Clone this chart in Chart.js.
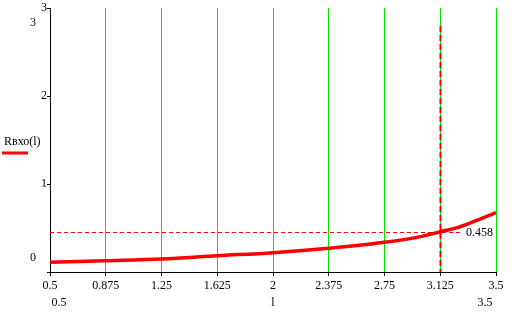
<!DOCTYPE html>
<html><head><meta charset="utf-8">
<script src="https://cdn.jsdelivr.net/npm/chart.js@4/dist/chart.umd.min.js"></script>
<style>html,body{margin:0;padding:0;background:#fff}#wrap{width:517px;height:317px;position:relative}</style>
</head><body><div id="wrap"><canvas id="c" width="517" height="317"></canvas></div>
<script>
// Data
const lValues = [0.5, 0.875, 1.25, 1.625, 2, 2.375, 2.75, 3.0, 3.125, 3.25, 3.375, 3.5];
const rValues = [0.11, 0.128, 0.148, 0.185, 0.22, 0.27, 0.337, 0.405, 0.458, 0.51, 0.59, 0.674];
const xTickStep = 0.375;
const xRange = [0.5, 3.5];
const yRange = [0, 3];
const markerL = 3.125;
const markerR = 0.458;
const markerLabel = '0.458';
const xLimitLabels = ['0.5', '3.5'];
const yLimitLabels = ['0', '3'];
const xAxisName = 'l';
const seriesName = 'Rвхо(l)';

const FONT = '"Liberation Serif", "Times New Roman", serif';

const overlay = {
  id: 'overlay',
  afterDraw(chart) {
    const ctx = chart.ctx, xs = chart.scales.x, ys = chart.scales.y;
    const ca = chart.chartArea;
    ctx.save();
    // horizontal dashed marker
    const yy = Math.round(ys.getPixelForValue(markerR)) + 0.5;
    ctx.strokeStyle = '#ff0000';
    ctx.lineWidth = 1;
    ctx.setLineDash([4, 3]);
    ctx.beginPath(); ctx.moveTo(ca.left, yy); ctx.lineTo(ca.right - 33, yy); ctx.stroke();
    // vertical dashed marker
    const xx = Math.round(xs.getPixelForValue(markerL)) + 0.5;
    ctx.lineWidth = 2;
    ctx.setLineDash([6, 3]);
    ctx.beginPath(); ctx.moveTo(xx, ca.top + 18); ctx.lineTo(xx, ca.bottom); ctx.stroke();
    ctx.setLineDash([]);
    // texts
    ctx.fillStyle = '#000';
    ctx.font = '12px ' + FONT;
    ctx.textBaseline = 'middle';
    ctx.textAlign = 'left';
    ctx.fillText(markerLabel, ca.right - 30, yy);
    // axis limit labels
    ctx.textAlign = 'center';
    ctx.fillText(xLimitLabels[0], xs.getPixelForValue(xRange[0]) + 9, ca.bottom + 31);
    ctx.fillText(xLimitLabels[1], xs.getPixelForValue(xRange[1]) - 11, ca.bottom + 31);
    ctx.fillText(xAxisName, (ca.left + ca.right) / 2, ca.bottom + 31);
    ctx.fillText(yLimitLabels[0], ca.left - 17, ys.getPixelForValue(yRange[0]) - 14);
    ctx.fillText(yLimitLabels[1], ca.left - 17, ys.getPixelForValue(yRange[1]) + 15);
    // series name legend
    ctx.textAlign = 'left';
    ctx.fillText(seriesName, 4, 142);
    ctx.strokeStyle = '#ff0000';
    ctx.lineWidth = 3;
    ctx.beginPath(); ctx.moveTo(2, 153); ctx.lineTo(28, 153); ctx.stroke();
    ctx.restore();
  }
};

new Chart(document.getElementById('c'), {
  type: 'line',
  data: {
    datasets: [{
      label: seriesName,
      data: lValues.map((l, i) => ({ x: l, y: rValues[i] })),
      borderColor: '#ff0000',
      borderWidth: 3.5,
      pointRadius: 0,
      cubicInterpolationMode: 'monotone',
      fill: false
    }]
  },
  options: {
    responsive: false,
    animation: false,
    devicePixelRatio: 1,
    layout: { padding: { top: 8, right: 21, left: 0, bottom: 0 } },
    plugins: { legend: { display: false }, tooltip: { enabled: false }, title: { display: false } },
    scales: {
      x: {
        type: 'linear', min: xRange[0], max: xRange[1],
        afterFit(s) { s.height = 45; },
        ticks: {
          stepSize: xTickStep, autoSkip: false, maxRotation: 0, color: '#000',
          font: { family: FONT, size: 12 }, padding: 3,
          callback: v => String(v)
        },
        grid: {
          color: c => (c.tick && c.tick.value === xRange[0]) ? 'rgba(0,0,0,0)' : '#00e600',
          tickColor: '#000', tickLength: 4, lineWidth: 1
        },
        border: { color: '#000', width: 1 }
      },
      y: {
        type: 'linear', min: yRange[0], max: yRange[1],
        afterFit(s) { s.width = 50; },
        ticks: {
          stepSize: 1, color: '#000', font: { family: FONT, size: 12 }, padding: 0,
          callback: v => v === 0 ? '' : String(v)
        },
        grid: { drawOnChartArea: false, tickColor: '#000', tickLength: 3 },
        border: { color: '#000', width: 1 }
      }
    }
  },
  plugins: [overlay]
});
</script>
</body></html>
